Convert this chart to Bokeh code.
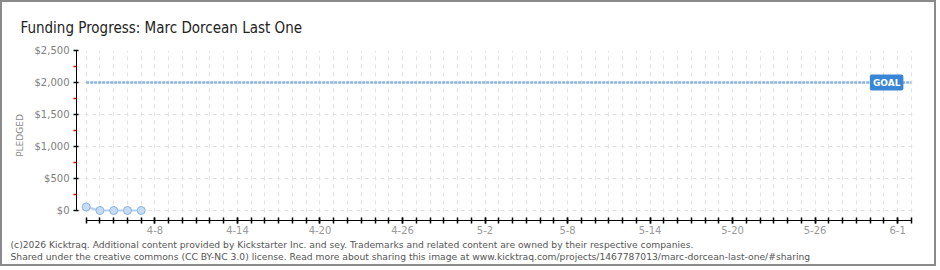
import pandas as pd
from bokeh.plotting import figure
from bokeh.models import (FixedTicker, NumeralTickFormatter, Label, Title, ColumnDataSource)
from bokeh.embed import file_html
from bokeh.resources import INLINE

# ---- data ----
dates = ["2013-04-03", "2013-04-04", "2013-04-05", "2013-04-06", "2013-04-07"]
pledged = [55, 0, 0, 0, 0]
goal = 2000
campaign_start = "2013-04-03"
campaign_end = "2013-06-02"
label_dates = ["2013-04-08", "2013-04-14", "2013-04-20", "2013-04-26", "2013-05-02",
               "2013-05-08", "2013-05-14", "2013-05-20", "2013-05-26", "2013-06-01"]
label_texts = ["4-8", "4-14", "4-20", "4-26", "5-2", "5-8", "5-14", "5-20", "5-26", "6-1"]
y_ticks = [0, 500, 1000, 1500, 2000, 2500]
y_minor = [250, 750, 1250, 1750, 2250]

title_text = "Funding Progress: Marc Dorcean Last One"
footer1 = ("(c)2026 Kicktraq. Additional content provided by Kickstarter Inc. and sey. "
           "Trademarks and related content are owned by their respective companies.")
footer2 = ("Shared under the creative commons (CC BY-NC 3.0) license. Read more about sharing "
           "this image at www.kicktraq.com/projects/1467787013/marc-dorcean-last-one/#sharing")

# ---- derived ----
def ms(d):
    return int(pd.Timestamp(d).value // 10**6)

DAY = 86400000
x0 = ms(campaign_start)
x1 = ms(campaign_end)
all_days = list(range(x0, x1 + DAY, DAY))
xs = [ms(d) for d in dates]
src = ColumnDataSource(dict(x=xs, y=pledged, zero=[0] * len(xs)))

W, H = 936, 266
p = figure(width=W, height=H, x_axis_type="datetime", output_backend="svg",
           toolbar_location=None,
           x_range=(x0 - 0.705 * DAY, x1 + 0.3 * DAY),
           y_range=(-156.25, 2500),
           min_border_left=74, min_border_right=938 - 915, min_border_top=48,
           min_border_bottom=266 + 2 - 220)
p.styles = {"border": "2px solid #8a8a8a"}
p.outline_line_color = None
p.background_fill_color = "white"
p.border_fill_color = "white"

# title
p.title = Title(text=title_text, align="left", offset=-56, standoff=28,
                text_font="'DejaVu Sans Condensed', 'Liberation Sans Narrow', Roboto",
                text_font_size="15px",
                text_font_style="normal", text_color="#222222")

# footer
p.add_layout(Title(text=footer1, align="left", offset=-66, standoff=0,
                   text_font="DejaVu Sans", text_font_size="9.2px",
                   text_font_style="normal", text_color="#555555"), "below")
p.add_layout(Title(text=footer2, align="left", offset=-66, standoff=-1,
                   text_font="DejaVu Sans", text_font_size="9.2px",
                   text_font_style="normal", text_color="#555555"), "below")

# grids
p.xgrid.ticker = FixedTicker(ticks=all_days)
p.xgrid.bounds = (0, 2500)
p.ygrid.ticker = FixedTicker(ticks=y_ticks)
p.ygrid.bounds = (x0, x1)
for g in (p.xgrid, p.ygrid):
    g.grid_line_color = "#e2e2e2"
    g.grid_line_dash = "4 4"
    g.grid_line_width = 1

# x axis
xa = p.xaxis[0]
xa.ticker = FixedTicker(ticks=[ms(d) for d in label_dates], minor_ticks=all_days)
xa.major_label_overrides = {ms(d): t for d, t in zip(label_dates, label_texts)}
xa.bounds = (x0, x1)
xa.axis_line_color = "black"
xa.major_tick_line_color = "black"
xa.minor_tick_line_color = "black"
xa.major_tick_in = 3
xa.major_tick_out = 3
xa.minor_tick_in = 3
xa.minor_tick_out = 3
xa.major_tick_line_width = 1.5
xa.minor_tick_line_width = 1.5
xa.major_label_text_font = "DejaVu Sans"
xa.major_label_text_font_size = "10px"
xa.major_label_text_color = "#999999"
xa.major_label_standoff = 2

# y axis
ya = p.yaxis[0]
ya.ticker = FixedTicker(ticks=y_ticks, minor_ticks=y_minor)
ya.formatter = NumeralTickFormatter(format="$0,0")
ya.bounds = (0, 2500)
ya.axis_line_color = "black"
ya.major_tick_line_color = "black"
ya.minor_tick_line_color = "#e00000"
ya.major_tick_in = 2
ya.major_tick_out = 3
ya.minor_tick_in = 0
ya.minor_tick_out = 3
ya.major_tick_line_width = 1.5
ya.minor_tick_line_width = 1.5
ya.major_label_text_font = "DejaVu Sans"
ya.major_label_text_font_size = "10px"
ya.major_label_text_color = "#808080"
ya.major_label_standoff = 4
ya.axis_label = "PLEDGED"
ya.axis_label_text_font = "DejaVu Sans"
ya.axis_label_text_font_size = "9px"
ya.axis_label_text_font_style = "normal"
ya.axis_label_text_color = "#888888"
ya.axis_label_standoff = 7

# goal line
p.line([x0, x1], [goal, goal], line_color="#8db3df", line_width=2.5, line_dash="3 1")

# data
p.varea(x="x", y1="zero", y2="y", source=src, fill_color="#e6effa", fill_alpha=1)
p.line(x="x", y="y", source=src, line_color="#b5d1f0", line_width=2)
p.scatter(x="x", y="y", source=src, size=8, fill_color="#c6dcf6", line_color="#8fb3dd",
          line_width=1)

# goal label
p.add_layout(Label(x=x1, y=goal, x_offset=-8, text="GOAL", text_align="right",
                   text_baseline="middle", text_color="white", text_font="DejaVu Sans",
                   text_font_style="bold", text_font_size="9px",
                   background_fill_color="#3a86d6", padding=3, border_radius=2))

open("out.html", "w").write(file_html(p, INLINE))
